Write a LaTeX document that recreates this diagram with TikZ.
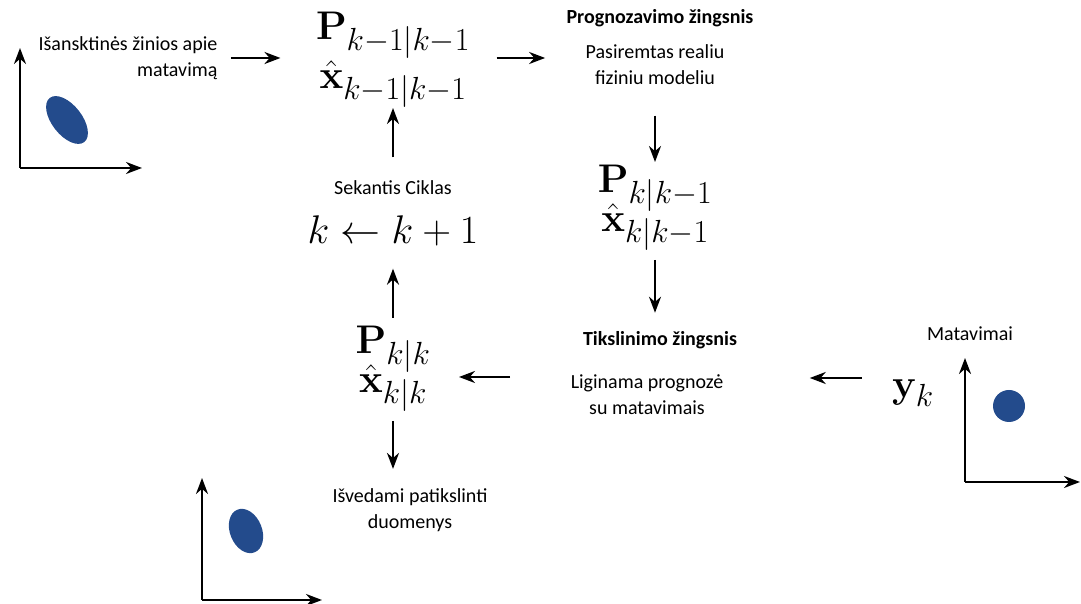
\RequirePackage{fix-cm}
\documentclass[tikz,border=0pt]{standalone}
\usepackage[no-math]{fontspec}
\setmainfont{Carlito}
\usetikzlibrary{arrows.meta}

\DeclareMathSizes{40}{40}{32}{24}
\definecolor{blobblue}{RGB}{35,75,140}
\newcommand{\estfont}[1]{\fontsize{40}{#1}\selectfont\lineskiplimit=-40pt\relax}

\tikzset{
  flow/.style={-{Stealth[open,length=16pt,width=12pt]}, line width=2.4pt},
  txt/.style={align=center, font=\fontsize{20}{26}\selectfont},
  head/.style={font=\fontsize{20}{26}\selectfont\bfseries},
  est/.style={align=center, anchor=base, font={\estfont{39}}},
}

\begin{document}
\begin{tikzpicture}[x=1pt,y=1pt]
    \useasboundingbox (0,0) rectangle (1081,604);
    % priori
    \draw [flow] (20,436) -- (20,556);
    \draw [flow] (20,436) -- (142,436);
    \fill [blobblue, shift={(67,484)}, rotate=-52] (0,0) ellipse [x radius=28, y radius=15];
    \node [txt, align=right] (prior) at (128,546) {Išansktinės žinios apie\\matavimą};
    \node [est, font={\estfont{49}}] (Pold) at (393,515) {$\mathbf{P}_{k-1|k-1}$\\$\hat{\mathbf{x}}_{k-1|k-1}$};
    % prognoze
    \node [head] (predhead) at (660,586) {Prognozavimo žingsnis};
    \node [txt] (pred) at (655,539) {Pasiremtas realiu\\fiziniu modeliu};
    \node [est] (Ppred) at (655,372) {$\mathbf{P}_{k|k-1}$\\$\hat{\mathbf{x}}_{k|k-1}$};
    % tikslinimas
    \node [head] (updhead) at (660,264) {Tikslinimo žingsnis};
    \node [txt] (upd) at (647,209) {Liginama prognozė\\su matavimais};
    \node [txt] (meas) at (970,270) {Matavimai};
    \node [est, anchor=center] (yk) at (913,211) {$\mathbf{y}_k$};
    \draw [flow] (965,122) -- (965,246);
    \draw [flow] (965,122) -- (1080,122);
    \fill [blobblue] (1009,198) circle [radius=16];
    \node [est] (Pupd) at (393,211) {$\mathbf{P}_{k|k}$\\$\hat{\mathbf{x}}_{k|k}$};
    % ciklas
    \node [est, anchor=center] (kstep) at (393,373) {$k \leftarrow k+1$};
    \node [txt] (next) at (393,416) {Sekantis Ciklas};
    % isvestis
    \node [txt] (out) at (410,94) {Išvedami patikslinti\\duomenys};
    \draw [flow] (202,4) -- (202,126);
    \draw [flow] (202,4) -- (322,4);
    \fill [blobblue, shift={(246,73)}, rotate=-68] (0,0) ellipse [x radius=23, y radius=16];
    % rodykles
    \draw [flow, shorten <=10pt, shorten >=32pt] (prior.east) -- (prior.east -| Pold.west);
    \draw [flow, shorten <=23pt, shorten >=37pt] (prior.east -| Pold.east) -- (prior.east -| pred.west);
    \draw [flow, shorten <=27pt, shorten >=70pt] (pred.south) -- (pred.south |- Ppred.base);
    \draw [flow, shorten <=28pt, shorten >=15pt] (Ppred.base) -- (Ppred.base |- updhead.north);
    \draw [flow, shorten <=27pt, shorten >=83pt] ([yshift=15pt]yk.west) -- ([yshift=15pt]yk.west -| upd.east);
    \draw [flow, shorten <=57pt, shorten >=25pt] ([yshift=18pt]upd.west) -- ([yshift=18pt]upd.west -| Pupd.east);
    \draw [flow, shorten <=75pt, shorten >=19pt] (Pupd.base) -- (Pupd.base |- kstep.south);
    \draw [flow, shorten <=20pt, shorten >=19pt] (next.north) -- (next.north |- Pold.base);
    \draw [flow, shorten <=28pt, shorten >=16pt] (Pupd.base) -- (Pupd.base |- out.north);
\end{tikzpicture}
\end{document}
